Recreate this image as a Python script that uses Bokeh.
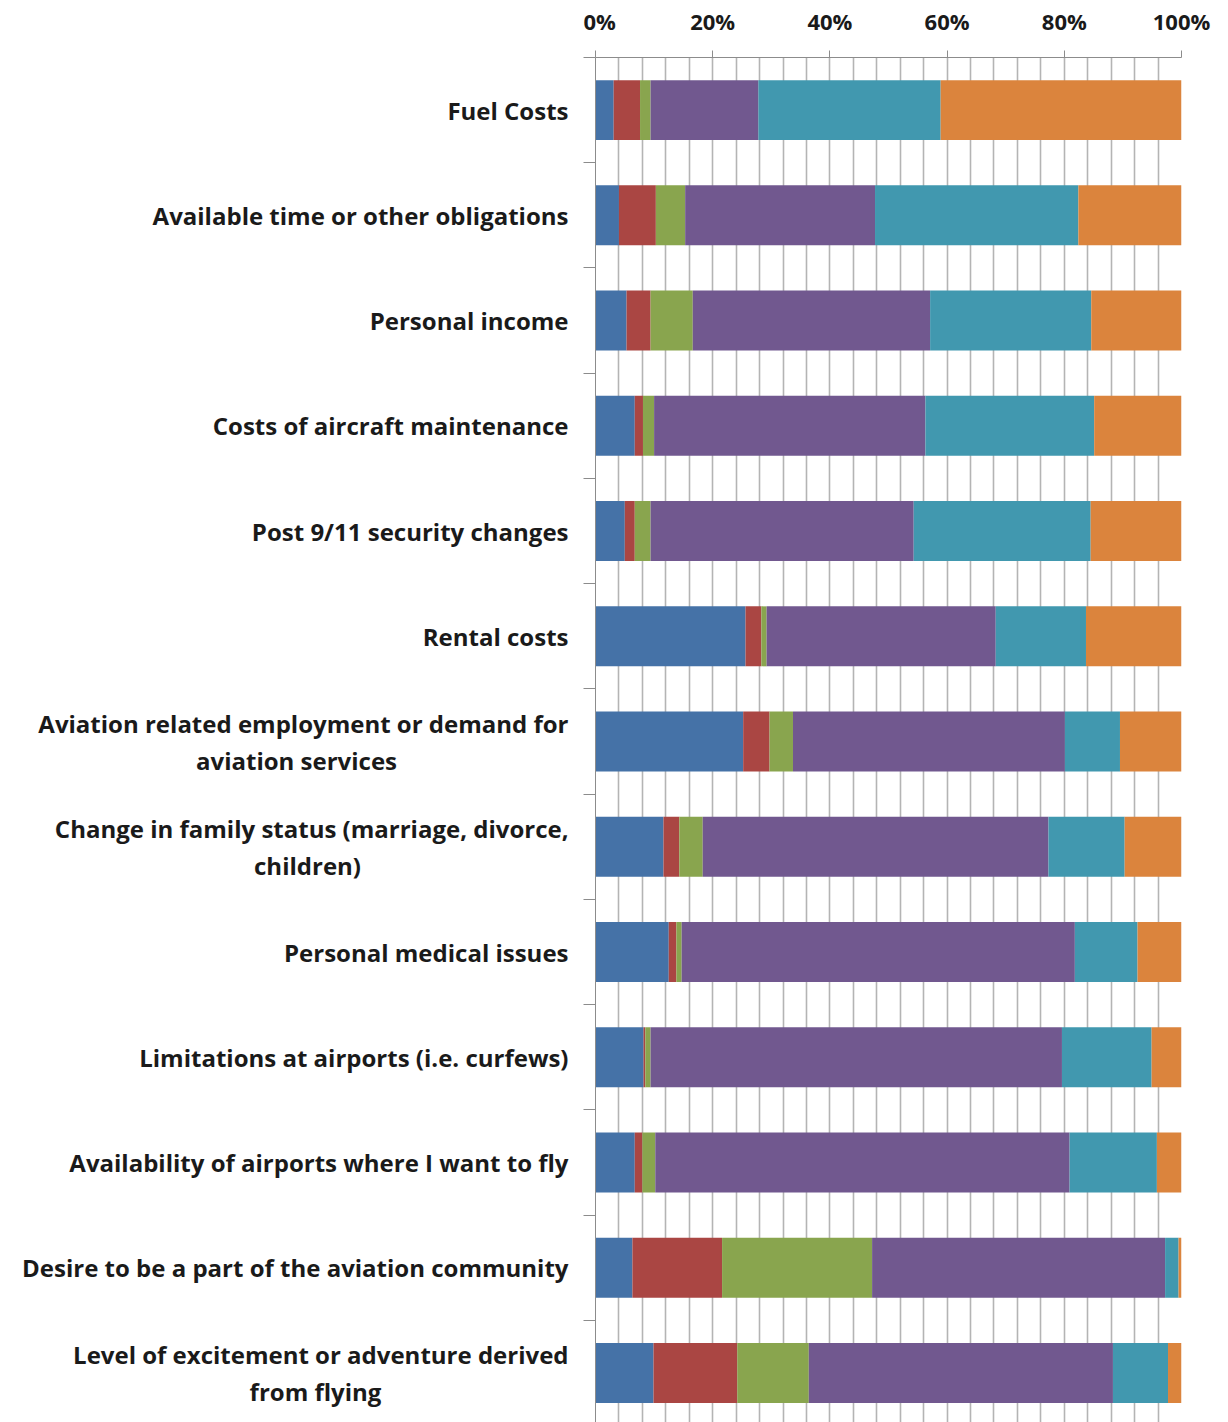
from bokeh.plotting import figure
from bokeh.layouts import row
from bokeh.models import ColumnDataSource, Range1d, FixedTicker, PrintfTickFormatter
from bokeh.core.properties import value
from bokeh.embed import file_html
from bokeh.resources import INLINE

categories = [
    "Fuel Costs",
    "Available time or other obligations",
    "Personal income",
    "Costs of aircraft maintenance",
    "Post 9/11 security changes",
    "Rental costs",
    "Aviation related employment or demand for\naviation services",
    "Change in family status (marriage, divorce,\nchildren)",
    "Personal medical issues",
    "Limitations at airports (i.e. curfews)",
    "Availability of airports where I want to fly",
    "Desire to be a part of the aviation community",
    "Level of excitement or adventure derived\nfrom flying",
]

# six response levels (percent of respondents), stacked left to right
level_1 = [3.1, 4.0, 5.3, 6.7, 5.0, 25.6, 25.2, 11.6, 12.5, 8.2, 6.7, 6.3, 9.9]
level_2 = [4.5, 6.3, 4.1, 1.4, 1.7, 2.7, 4.5, 2.7, 1.3, 0.3, 1.3, 15.3, 14.3]
level_3 = [1.8, 5.0, 7.2, 1.9, 2.7, 0.9, 4.0, 4.0, 0.9, 0.9, 2.2, 25.6, 12.2]
level_4 = [18.4, 32.4, 40.5, 46.3, 44.9, 39.1, 46.4, 59.0, 67.1, 70.2, 70.7, 50.0, 51.9]
level_5 = [31.1, 34.7, 27.5, 28.8, 30.2, 15.4, 9.4, 13.0, 10.7, 15.3, 14.9, 2.3, 9.4]
level_6 = [41.1, 17.6, 15.4, 14.9, 15.5, 16.3, 10.5, 9.7, 7.5, 5.1, 4.2, 0.5, 2.3]

x_ticks = [0, 20, 40, 60, 80, 100]
grid_ticks = list(range(0, 101, 4))

series = ["level_1", "level_2", "level_3", "level_4", "level_5", "level_6"]
colors = ["#4572A7", "#AA4643", "#89A54E", "#71588F", "#4198AF", "#DB843D"]

FONT = "Open Sans"
LABEL_SIZE = "24px"
TEXT_COLOR = "#1A1A1A"

# layout (pixels)
TOP = 57
FRAME_H = 1365
FRAME_W = 586
LABEL_W = 583          # width of the label column
TICK_OUT = 12          # category tick length
LABEL_RIGHT = 568      # right edge of category labels within the label column
LINE_HALF = 18.5       # half spacing of wrapped label lines
Y_SPAN = 12.97         # visible category span
wrap_centres = [296, 307, 315]   # centre of wrapped second lines within the label column

ypos = [i + 0.5 for i in range(len(categories))]
source = ColumnDataSource(dict(
    y=ypos,
    level_1=level_1, level_2=level_2, level_3=level_3,
    level_4=level_4, level_5=level_5, level_6=level_6,
))

y_range = Range1d(Y_SPAN, 0)
px_per_unit = FRAME_H / Y_SPAN
dy = LINE_HALF / px_per_unit

# ---- label column -------------------------------------------------------
rx, ry, rt = [], [], []
cx, cy, ct = [], [], []
wi = 0
for y, c in zip(ypos, categories):
    if "\n" in c:
        first, second = c.split("\n")
        rx.append(LABEL_RIGHT); ry.append(y - dy); rt.append(first)
        cx.append(wrap_centres[wi]); cy.append(y + dy); ct.append(second)
        wi += 1
    else:
        rx.append(LABEL_RIGHT); ry.append(y); rt.append(c)

lab = figure(
    frame_width=LABEL_W, frame_height=FRAME_H,
    x_range=Range1d(0, LABEL_W), y_range=y_range,
    x_axis_location=None, y_axis_location=None,
    min_border_left=0, min_border_right=0, min_border_top=TOP, min_border_bottom=0,
    output_backend="svg", toolbar_location=None,
)
lab.outline_line_color = None
lab.grid.visible = False
text_kw = dict(text_baseline="middle", text_font=value(FONT), text_font_style="bold",
               text_font_size=value(LABEL_SIZE), text_color=TEXT_COLOR)
lab.text(x=rx, y=ry, text=rt, text_align="right", **text_kw)
lab.text(x=cx, y=cy, text=ct, text_align="center", **text_kw)

# ---- chart --------------------------------------------------------------
p = figure(
    frame_width=FRAME_W, frame_height=FRAME_H,
    x_range=Range1d(0, 100), y_range=y_range,
    x_axis_location="above",
    min_border_left=TICK_OUT, min_border_top=TOP, min_border_bottom=0, min_border_right=39,
    output_backend="svg", toolbar_location=None,
)

p.hbar_stack(series, y="y", height=0.57, color=colors, line_color=None, source=source)

p.outline_line_color = None
p.ygrid.visible = False
p.xgrid.ticker = FixedTicker(ticks=grid_ticks)
p.xgrid.grid_line_color = "#B4B4B4"
p.xgrid.grid_line_width = 1.6

xa = p.xaxis[0]
xa.ticker = FixedTicker(ticks=x_ticks)
xa.formatter = PrintfTickFormatter(format="%d%%")
xa.axis_line_color = "#8C8C8C"
xa.major_tick_line_color = "#8C8C8C"
xa.major_tick_out = 7
xa.major_tick_in = 0
xa.minor_tick_line_color = None
xa.major_label_standoff = 15
xa.major_label_text_font = FONT
xa.major_label_text_font_style = "bold"
xa.major_label_text_font_size = "22px"
xa.major_label_text_color = TEXT_COLOR

ya = p.yaxis[0]
ya.ticker = FixedTicker(ticks=ypos, minor_ticks=list(range(0, 14)))
ya.major_label_overrides = {y: "" for y in ypos}
ya.major_label_text_font_size = "0px"
ya.major_label_standoff = 0
ya.axis_line_color = "#8C8C8C"
ya.major_tick_line_color = None
ya.major_tick_out = 0
ya.major_tick_in = 0
ya.minor_tick_line_color = "#8C8C8C"
ya.minor_tick_out = TICK_OUT
ya.minor_tick_in = 0

layout = row(lab, p, spacing=0)
open("out.html", "w").write(file_html(layout, INLINE))
